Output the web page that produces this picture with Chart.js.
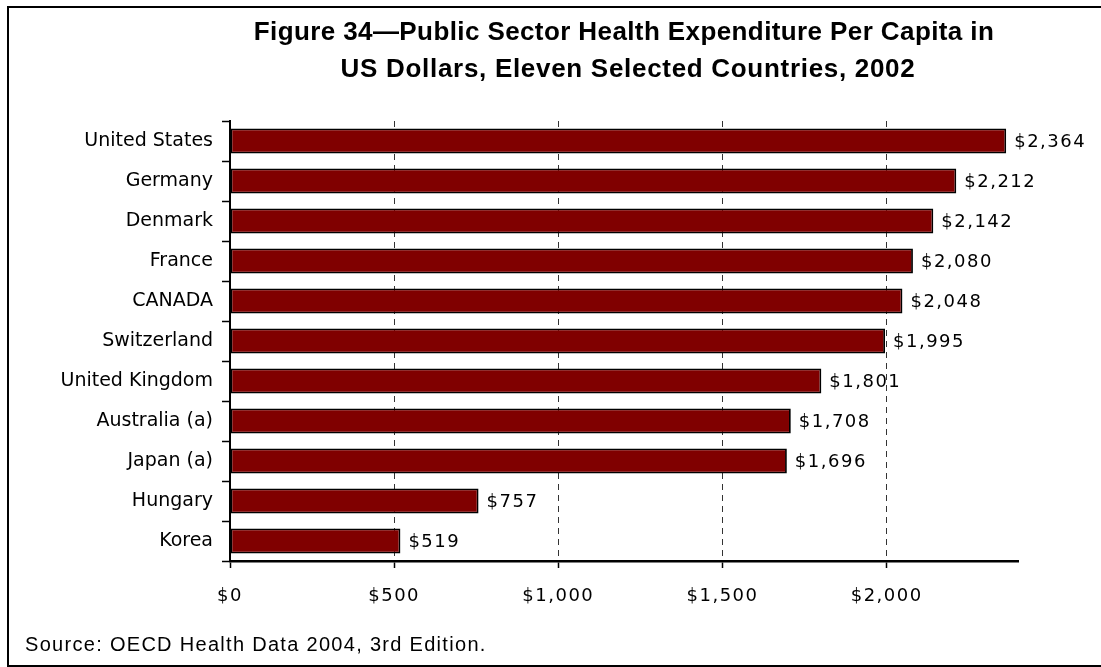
<!DOCTYPE html>
<html>
<head>
<meta charset="utf-8">
<script src="https://cdn.jsdelivr.net/npm/chart.js@4/dist/chart.umd.min.js"></script>
<style>
  html, body { margin: 0; padding: 0; background: #fff; }
  canvas { display: block; }
</style>
</head>
<body>
<canvas id="health_chart" width="1101" height="667"></canvas>
<script>
// data
var countries = ['United States', 'Germany', 'Denmark', 'France', 'CANADA', 'Switzerland', 'United Kingdom', 'Australia (a)', 'Japan (a)', 'Hungary', 'Korea']
var spending = [2364, 2212, 2142, 2080, 2048, 1995, 1801, 1708, 1696, 757, 519]
var x_ticks = [0, 500, 1000, 1500, 2000]
var title_lines = ['Figure 34\u2014Public Sector Health Expenditure Per Capita in', 'US Dollars, Eleven Selected Countries, 2002']
var source_note = 'Source: OECD Health Data 2004, 3rd Edition.'

var label_font = '18px "DejaVu Sans"'

function dollars(v) {
  return '$' + Number(v).toLocaleString('en-US')
}

// frame, title and source line
var decorations = {
  id: 'decorations',
  beforeDraw: function (chart) {
    var ctx = chart.ctx
    ctx.save()
    ctx.fillStyle = '#fff'
    ctx.fillRect(0, 0, chart.width, chart.height)
    ctx.restore()
  },
  afterDraw: function (chart) {
    var ctx = chart.ctx
    ctx.save()
    ctx.strokeStyle = '#000'
    ctx.lineWidth = 2
    ctx.beginPath()
    ctx.moveTo(1101, 7)
    ctx.lineTo(8, 7)
    ctx.lineTo(8, 666)
    ctx.lineTo(1101, 666)
    ctx.stroke()

    ctx.fillStyle = '#000'
    ctx.font = 'bold 26px "Liberation Sans"'
    ctx.textAlign = 'center'
    ctx.textBaseline = 'alphabetic'
    ctx.letterSpacing = '0.4px'
    ctx.fillText(title_lines[0], 624, 40)
    ctx.letterSpacing = '0.7px'
    ctx.fillText(title_lines[1], 628, 77)

    ctx.font = '20px "Liberation Sans"'
    ctx.letterSpacing = '1.3px'
    ctx.textAlign = 'left'
    ctx.fillText(source_note, 25, 651)
    ctx.restore()
  }
}

// value labels at bar ends
var bar_values = {
  id: 'bar_values',
  afterDatasetsDraw: function (chart) {
    var ctx = chart.ctx
    var meta = chart.getDatasetMeta(0)
    ctx.save()
    ctx.font = label_font
    ctx.letterSpacing = '1.5px'
    ctx.fillStyle = '#000'
    ctx.textAlign = 'left'
    ctx.textBaseline = 'middle'
    meta.data.forEach(function (bar, i) {
      ctx.fillText(dollars(spending[i]), bar.x + 8, bar.y + 1)
    })
    ctx.restore()
  }
}

// spaced-out x tick labels like the data labels
var spaced_ticks = {
  id: 'spaced_ticks',
  afterLayout: function (chart) {
    var s = chart.scales.x
    if (s._spaced) return
    var orig = s.drawLabels
    s.drawLabels = function (area) {
      this.ctx.save()
      this.ctx.letterSpacing = '1.5px'
      orig.call(this, area)
      this.ctx.restore()
    }
    s._spaced = true
  }
}

var health_canvas = document.getElementById('health_chart')
var health_chart = new Chart(health_canvas.getContext('2d'), {
  type: 'bar',
  data: {
    labels: countries,
    datasets: [{
      label: 'Per capita',
      data: spending,
      backgroundColor: '#800000',
      borderColor: '#000',
      borderWidth: 1.8,
      borderSkipped: false,
      barPercentage: 0.625,
      categoryPercentage: 1
    }]
  },
  options: {
    indexAxis: 'y',
    responsive: false,
    animation: false,
    devicePixelRatio: 1,
    layout: {
      padding: { left: 8, right: 83, top: 121, bottom: 56 }
    },
    plugins: {
      legend: { display: false },
      title: { display: false },
      tooltip: { enabled: false }
    },
    scales: {
      x: {
        min: 0,
        max: 2400,
        afterBuildTicks: function (scale) {
          scale.ticks = x_ticks.map(function (v) { return { value: v } })
        },
        afterFit: function (scale) { scale.height = 50 },
        ticks: {
          color: '#000',
          font: { family: 'DejaVu Sans', size: 18 },
          padding: 18,
          maxRotation: 0,
          callback: function (v) { return dollars(v) }
        },
        grid: {
          color: function (c) { return c.tick && c.tick.value === 0 ? 'rgba(0,0,0,0)' : '#333' },
          lineWidth: 1,
          drawTicks: true,
          tickLength: 7,
          tickColor: '#000',
          tickWidth: 1.5
        },
        border: { display: true, color: '#000', width: 2.5, dash: [6, 5] }
      },
      y: {
        afterFit: function (scale) { scale.width = 222 },
        ticks: {
          color: '#000',
          font: { family: 'DejaVu Sans', size: 19 },
          padding: 9
        },
        grid: {
          drawOnChartArea: false,
          drawTicks: true,
          tickLength: 8,
          tickColor: '#000',
          tickWidth: 1.5
        },
        border: { display: true, color: '#000', width: 2 }
      }
    }
  },
  plugins: [decorations, bar_values, spaced_ticks]
})
</script>
</body>
</html>
